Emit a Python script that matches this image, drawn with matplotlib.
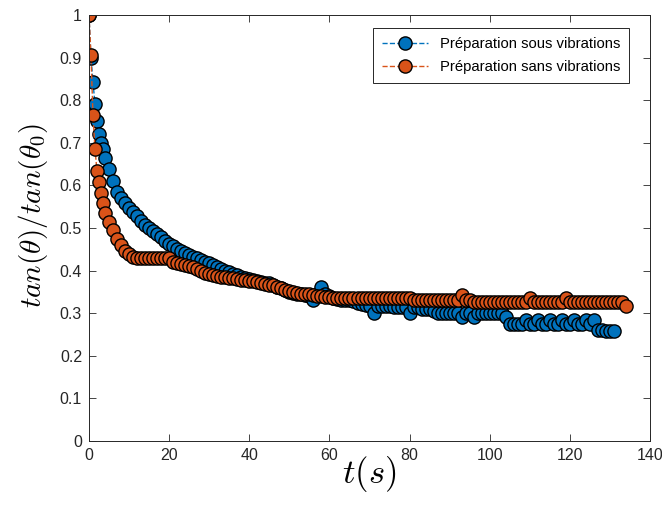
import numpy as np
import matplotlib
matplotlib.use("Agg")
import matplotlib.pyplot as plt

plt.rcParams['font.family'] = ['Liberation Sans', 'DejaVu Sans']
plt.rcParams['mathtext.fontset'] = 'cm'

# Préparation sous vibrations
t_sous = [0, 0.5, 1, 1.5, 2, 2.5, 3, 3.5, 4] + list(range(5, 132))
v_sous = [1.0, 0.90, 0.843, 0.79, 0.75, 0.72, 0.70, 0.685, 0.665,
          0.638, 0.61, 0.585, 0.57, 0.558, 0.548, 0.538, 0.527, 0.517, 0.508,
          0.50, 0.493, 0.485, 0.478, 0.47, 0.463, 0.457, 0.451, 0.446, 0.441,
          0.437, 0.433, 0.429, 0.425, 0.421, 0.417, 0.412, 0.408, 0.404, 0.40,
          0.396, 0.393, 0.39, 0.386, 0.383, 0.38, 0.378, 0.376, 0.374, 0.372,
          0.37, 0.366, 0.362, 0.358, 0.354, 0.35, 0.348, 0.346, 0.344, 0.342,
          0.34, 0.33, 0.345, 0.362, 0.345, 0.34, 0.335, 0.333, 0.331, 0.33,
          0.33, 0.328, 0.325, 0.322, 0.32, 0.318, 0.30, 0.318, 0.316, 0.316,
          0.316, 0.315, 0.315, 0.315, 0.315, 0.30, 0.315, 0.315, 0.31, 0.31,
          0.31, 0.305, 0.30, 0.30, 0.30, 0.30, 0.30, 0.30, 0.29, 0.30,
          0.30, 0.29, 0.30, 0.30, 0.30, 0.30, 0.30, 0.30, 0.30, 0.29,
          0.275, 0.275, 0.275, 0.275, 0.285, 0.275, 0.275, 0.285, 0.275, 0.275,
          0.285, 0.275, 0.275, 0.285, 0.275, 0.275, 0.285, 0.275, 0.275, 0.285,
          0.275, 0.285, 0.26, 0.26, 0.257, 0.257, 0.257]

# Préparation sans vibrations
t_sans = [0, 0.5, 1, 1.5, 2, 2.5, 3, 3.5, 4] + list(range(5, 135))
v_sans = [1.0, 0.905, 0.765, 0.685, 0.634, 0.609, 0.583, 0.558, 0.534,
          0.515, 0.495, 0.475, 0.46, 0.447, 0.438, 0.433, 0.43, 0.43, 0.43,
          0.43, 0.43, 0.43, 0.43, 0.43, 0.43, 0.421, 0.418, 0.415, 0.413,
          0.411, 0.409, 0.404, 0.398, 0.395, 0.392, 0.39, 0.388, 0.386, 0.385,
          0.383, 0.382, 0.38, 0.378, 0.377, 0.376, 0.375, 0.373, 0.371, 0.369,
          0.367, 0.366, 0.362, 0.358, 0.355, 0.352, 0.35, 0.348, 0.346, 0.345,
          0.344, 0.342, 0.341, 0.34, 0.339, 0.338, 0.335, 0.335, 0.335, 0.335,
          0.335, 0.335, 0.335, 0.335, 0.335, 0.335, 0.335, 0.335, 0.335, 0.335,
          0.335, 0.335, 0.335, 0.335, 0.335, 0.335, 0.33, 0.33, 0.33, 0.33,
          0.33, 0.33, 0.33, 0.33, 0.33, 0.33, 0.33, 0.33, 0.342, 0.33,
          0.33, 0.327, 0.327, 0.327, 0.327, 0.327, 0.327, 0.327, 0.327, 0.327,
          0.327, 0.327, 0.327, 0.327, 0.327, 0.335, 0.327, 0.327, 0.327, 0.327,
          0.327, 0.327, 0.327, 0.327, 0.335, 0.327, 0.327, 0.327, 0.327, 0.327,
          0.327, 0.327, 0.327, 0.327, 0.327, 0.327, 0.327, 0.327, 0.327, 0.318]

fig = plt.figure(figsize=(6.62, 5.15), dpi=100)
ax = fig.add_axes([0.1344, 0.1437, 0.8476, 0.8273])

ax.plot(t_sous, v_sous, '--o', color='#0072BD', markerfacecolor='#0072BD',
        markeredgecolor='k', markersize=9.5, markeredgewidth=1, linewidth=1,
        label='Préparation sous vibrations')
ax.plot(t_sans, v_sans, '--o', color='#D95319', markerfacecolor='#D95319',
        markeredgecolor='k', markersize=9.5, markeredgewidth=1, linewidth=1,
        label='Préparation sans vibrations')

ax.set_xlim(0, 140)
ax.set_ylim(0, 1)
ax.set_xticks(np.arange(0, 141, 20))
ax.set_yticks(np.arange(0, 1.01, 0.1))
ax.set_yticklabels(['0', '0.1', '0.2', '0.3', '0.4', '0.5', '0.6', '0.7', '0.8', '0.9', '1'])
ax.tick_params(direction='in', top=True, right=True, labelsize=11.5,
               colors='#262626', length=5, width=0.6, pad=5)
for s in ax.spines.values():
    s.set_linewidth(0.7)
    s.set_color('#262626')

ax.set_xlabel(r'$t(s)$', fontsize=25)
ax.xaxis.set_label_coords(0.5, -0.03)
ax.set_ylabel(r'$tan(\theta)/tan(\theta_0)$', fontsize=21)
ax.yaxis.set_label_coords(-0.07, 0.53)

leg = ax.legend(loc='upper right', bbox_to_anchor=(0.9626, 0.9695), fontsize=10.75,
                fancybox=False, framealpha=1, edgecolor='#262626',
                handlelength=3.1, borderaxespad=0, labelspacing=0.6, borderpad=0.6)
leg.get_frame().set_linewidth(0.7)

fig.savefig('out.png', dpi=100)
